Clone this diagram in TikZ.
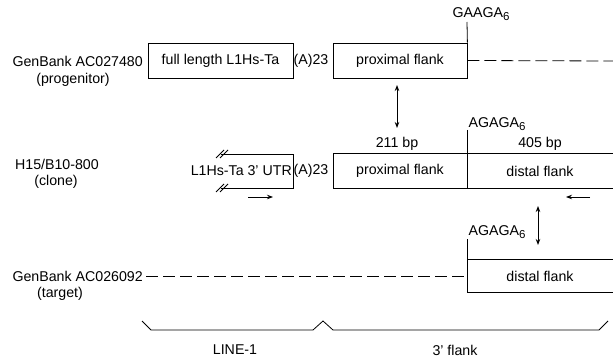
\documentclass[tikz,border=0pt]{standalone}
\usepackage{fontspec}
\setmainfont{Liberation Sans}
\usetikzlibrary{arrows.meta}
\newcommand{\subsix}{\raisebox{-2.5pt}{\fontsize{11.5}{12}\selectfont 6}}
\begin{document}
\begin{tikzpicture}[x=1pt,y=-1pt,
  every node/.style={font=\fontsize{14.2}{16}\selectfont, inner sep=0pt},
  ln/.style={line width=0.8pt},
  boxn/.style={draw, line width=0.8pt, minimum height=35pt},
  dsh/.style={line width=0.8pt, dash pattern=on 12pt off 5pt},
  arr/.style={line width=0.9pt, -{Stealth[length=6pt,width=4.5pt]}},
  darr/.style={line width=0.9pt, {Stealth[length=6pt,width=4.5pt]}-{Stealth[length=6pt,width=4.5pt]}}]
\useasboundingbox (0,0) rectangle (613,358);
% row 1
\node[anchor=east] (g1) at (143,61) {GenBank AC027480};
\node (g1b) at (73,80) {(progenitor)};
\node[boxn, minimum width=145pt] (fl) at (220.5,60.5) {full length L1Hs-Ta};
\node (a1) at (311,61) {(A)23};
\node[boxn, minimum width=134pt] (p1) at (400,60.5) {proximal flank};
\coordinate (t1) at (467,22);
\draw[ln] (t1) -- (p1.north east);
\node (ga1) at (481,14) {GAAGA\subsix};
\coordinate (e1) at (613,61);
\draw[dsh] (p1.east) -- (e1);
\coordinate (da1) at (397,85);
\coordinate (da2) at (397,128);
\draw[darr] (da1) -- (da2);
% row 2
\node[anchor=east] (h) at (99,164) {H15/B10-800};
\node (hb) at (56,182) {(clone)};
\node[anchor=east] (utr) at (292,171) {L1Hs-Ta 3' UTR};
\coordinate (u1) at (221,154);
\coordinate (u2) at (293,154);
\coordinate (u3) at (293,188);
\coordinate (u4) at (221,188);
\draw[ln] (u1) -- (u2) -- (u3) -- (u4);
\draw[ln] (216,158) -- (224,150) (220,158) -- (228,150);
\draw[ln] (216,192) -- (224,184) (220,192) -- (228,184);
\node (a2) at (311,171) {(A)23};
\coordinate (b1) at (613,153);
\coordinate (b2) at (333,153);
\coordinate (b3) at (333,188);
\coordinate (b4) at (613,188);
\draw[ln] (b1) -- (b2) -- (b3) -- (b4);
\coordinate (t2) at (467,130);
\coordinate (t2b) at (467,188);
\draw[ln] (t2) -- (t2b);
\node (p2) at (400,171) {proximal flank};
\node (d2) at (540,171) {distal flank};
\node (bp1) at (397,144) {211 bp};
\node (bp2) at (540,144) {405 bp};
\node (ga2) at (497,124) {AGAGA\subsix};
\coordinate (r1) at (248,197);
\coordinate (r2) at (273,197);
\draw[arr] (r1) -- (r2);
\coordinate (l1) at (590,197);
\coordinate (l2) at (566,197);
\draw[arr] (l1) -- (l2);
\coordinate (db1) at (538,206);
\coordinate (db2) at (538,245);
\draw[darr] (db1) -- (db2);
% row 3
\node[anchor=east] (g3) at (143,276) {GenBank AC026092};
\node (g3b) at (60,294) {(target)};
\node (ga3) at (497,232) {AGAGA\subsix};
\coordinate (t3) at (467,239);
\coordinate (c1) at (613,259);
\coordinate (c2) at (467,259);
\coordinate (c3) at (467,292);
\coordinate (c4) at (613,292);
\draw[ln] (t3) -- (c3) -- (c4);
\draw[ln] (c2) -- (c1);
\node (d3) at (540,276) {distal flank};
\coordinate (s3) at (146,276);
\coordinate (s3e) at (467,276);
\draw[dsh] (s3) -- (s3e);
% braces
\coordinate (k0) at (142,321);
\coordinate (k1) at (151,330);
\coordinate (k2) at (313,330);
\coordinate (k3) at (323,321);
\coordinate (k4) at (333,330);
\coordinate (k5) at (599,330);
\coordinate (k6) at (608,321);
\draw[ln] (k0) -- (k1) -- (k2) -- (k3) -- (k4) -- (k5) -- (k6);
\node (L1) at (235,350) {LINE-1};
\node (fl3) at (455,350) {3' flank};
\end{tikzpicture}
\end{document}
